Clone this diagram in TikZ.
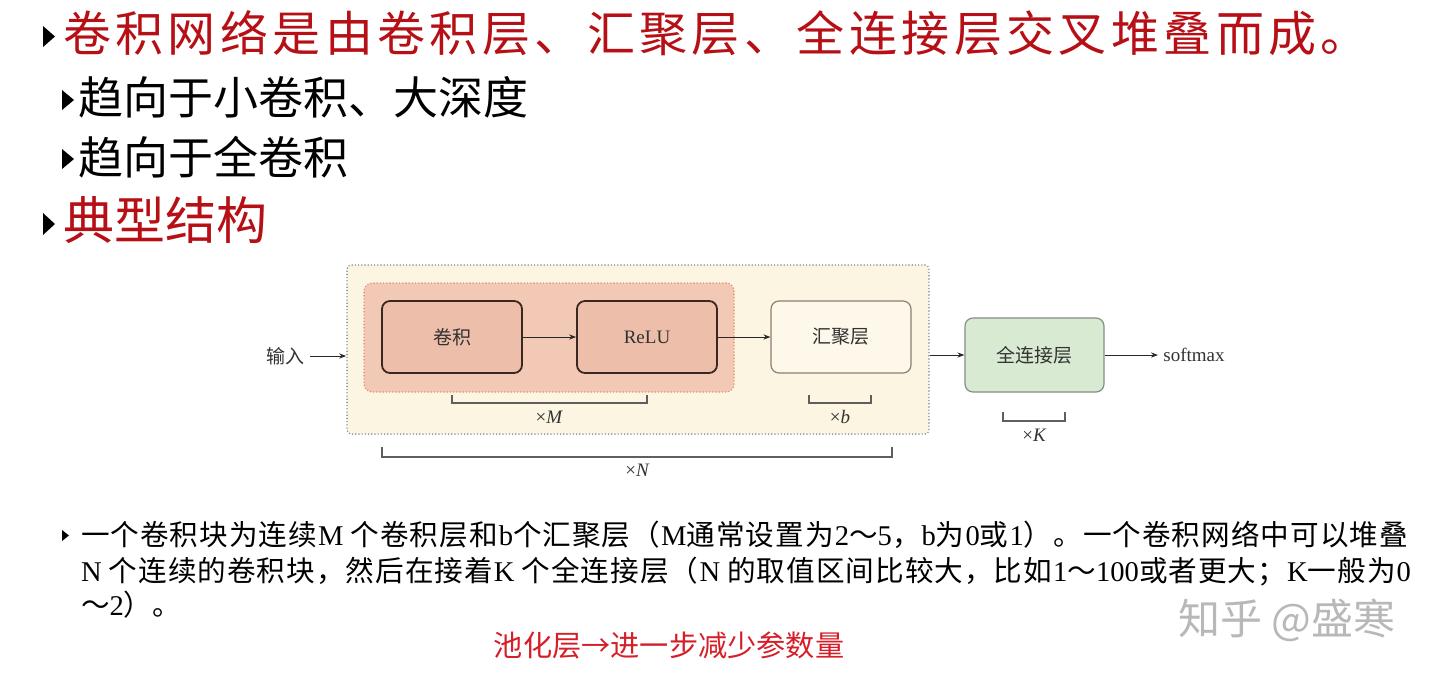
\documentclass[tikz,border=0pt]{standalone}
\usepackage{fontspec}
\setmainfont{Liberation Serif}
\newfontfamily\zhfont{Noto Sans CJK SC}
\newcommand\zh[1]{{\zhfont #1}}
\def\gapcharsA#1{\ifx\relax#1\else#1\hskip 0pt plus 1fil\relax\expandafter\gapcharsA\fi}
\newcommand\zhs[1]{{\zhfont\gapcharsA#1\relax}}
\usetikzlibrary{arrows.meta}
\definecolor{titlered}{RGB}{182,16,22}
\definecolor{notered}{RGB}{214,30,40}
\definecolor{outerbg}{RGB}{252,245,226}
\definecolor{outerline}{RGB}{125,133,153}
\definecolor{innerbg}{RGB}{241,201,181}
\definecolor{innerline}{RGB}{226,140,118}
\definecolor{convbg}{RGB}{237,191,170}
\definecolor{convline}{RGB}{58,40,32}
\definecolor{poolbg}{RGB}{253,248,234}
\definecolor{poolline}{RGB}{140,128,112}
\definecolor{fcbg}{RGB}{217,234,210}
\definecolor{fcline}{RGB}{135,140,132}
\definecolor{arrowc}{RGB}{40,40,40}
\definecolor{bracketc}{RGB}{95,95,95}
\definecolor{dtext}{RGB}{50,50,50}
\tikzset{
  txt/.style={inner sep=0pt, outer sep=0pt, anchor=west},
  dfont/.style={font=\fontsize{9.5}{11}\selectfont, text=dtext, inner sep=0pt},
  outerbox/.style={draw=outerline, fill=outerbg, line width=0.8pt, line cap=round,
    dash pattern=on 0pt off 1.6pt, rounded corners=2pt, inner sep=0pt},
  innerbox/.style={draw=innerline, fill=innerbg, line width=0.8pt, line cap=round,
    dash pattern=on 0pt off 1.6pt, rounded corners=4pt, inner sep=0pt},
  convbox/.style={draw=convline, fill=convbg, line width=0.9pt, rounded corners=4pt,
    minimum width=70pt, minimum height=36pt, inner sep=0pt, dfont},
  poolbox/.style={draw=poolline, fill=poolbg, line width=0.6pt, rounded corners=4pt,
    minimum width=70pt, minimum height=36pt, inner sep=0pt, dfont},
  fcbox/.style={draw=fcline, fill=fcbg, line width=0.6pt, rounded corners=4pt,
    minimum width=69.5pt, minimum height=37pt, inner sep=0pt, dfont},
  conn/.style={draw=arrowc, line width=0.5pt, -{Stealth[length=3.5pt,width=2.6pt]}},
  bracket/.style={draw=bracketc, line width=0.6pt},
  bullet/.style={fill=black},
}
\begin{document}
\begin{tikzpicture}[x=0.5pt,y=-0.5pt]
\useasboundingbox (0,0) rectangle (1440,682);
% headings
\fill[bullet] (43,26) -- (43,47) -- (55,36.5) -- cycle;
\node[txt, text=titlered, font=\zhfont\fontsize{24}{28}\selectfont] (title) at (63,33)
  {\hbox to 653pt{\zhs{卷积网络是由卷积层、汇聚层、全连接层交叉堆叠而成}。}};
\fill[bullet] (62,90) -- (62,110) -- (74,100) -- cycle;
\node[txt, font=\zhfont\fontsize{22.5}{26}\selectfont] (sub1) at (78,97) {趋向于小卷积、大深度};
\fill[bullet] (62,149) -- (62,169) -- (74,159) -- cycle;
\node[txt, font=\zhfont\fontsize{22.5}{26}\selectfont] (sub2) at (78,157) {趋向于全卷积};
\fill[bullet] (43,213) -- (43,235) -- (55,224) -- cycle;
\node[txt, text=titlered, font=\zhfont\fontsize{25.5}{30}\selectfont] (typ) at (63,220) {典型结构};
% diagram
\node[outerbox, minimum width=291pt, minimum height=84.5pt] (outer) at (638,349.5) {};
\node[innerbox, minimum width=185pt, minimum height=54.5pt] (inner) at (549,337.5) {};
\node[convbox] (conv) at (452,337) {\zh{卷积}};
\node[convbox] (relu) at (647,337) {ReLU};
\node[poolbox] (pool) at (841,337) {\zh{汇聚层}};
\node[fcbox] (fc) at (1034.5,355) {\zh{全连接层}};
\node[dfont] (input) at (285,356) {\zh{输入}};
\node[dfont, anchor=west] (softmax) at (1163,355) {softmax};
\draw[conn, shorten <=3pt] (input.east) -- (input.east -| outer.west);
\draw[conn] (conv) -- (relu);
\draw[conn] (relu) -- (pool);
\draw[conn] (fc.west -| outer.east) -- (fc.west);
\draw[conn, shorten >=2.5pt] (fc) -- (softmax);
% brackets
\coordinate (mL) at (452,395); \coordinate (mR) at (647,395);
\draw[bracket] (mL) -- ++(0,8) -| (mR);
\node[dfont] (mlab) at (549,417) {×\itshape M};
\coordinate (bL) at (809,395); \coordinate (bR) at (871,395);
\draw[bracket] (bL) -- ++(0,8) -| (bR);
\node[dfont] (blab) at (840,417) {×\itshape b};
\coordinate (kL) at (1003,412); \coordinate (kR) at (1065,412);
\draw[bracket] (kL) -- ++(0,9) -| (kR);
\node[dfont] (klab) at (1034,435) {×\itshape K};
\coordinate (nL) at (382,447); \coordinate (nR) at (892,447);
\draw[bracket] (nL) -- ++(0,10) -| (nR);
\node[dfont] (nlab) at (637,470) {×\itshape N};
% paragraph
\fill[bullet] (62,530) -- (62,541) -- (69,535.5) -- cycle;
\node[txt, font=\fontsize{14.3}{17}\selectfont] (p1) at (81,535)
  {\hbox to 664pt{\zhs{一个卷积块为连续}M \zhs{个卷积层和}b\zhs{个汇聚层（}M\zhs{通常设置为}2\zh{～}5\zhs{，}b\zhs{为}0\zhs{或}1\zhs{）。一个卷积网络中可以堆叠}}};
\node[txt, font=\fontsize{14.3}{17}\selectfont] (p2) at (81,572)
  {\hbox to 665pt{N \zhs{个连续的卷积块，然后在接着}K \zhs{个全连接层（}N \zhs{的取值区间比较大，比如}1\zh{～}100\zhs{或者更大；}K\zhs{一般为}0}};
\node[txt, font=\fontsize{14.3}{17}\selectfont] (p3) at (81,605)
  {\zh{～}2\zh{）。}};
\node[font=\zhfont\fontsize{14.6}{18}\selectfont, text=notered, inner sep=0pt] (note) at (669,645)
  {池化层→进一步减少参数量};
\node[txt, text=black!28, font=\zhfont\fontsize{21}{24}\selectfont] (wm) at (1178,620) {知乎 @盛寒};
\end{tikzpicture}
\end{document}
